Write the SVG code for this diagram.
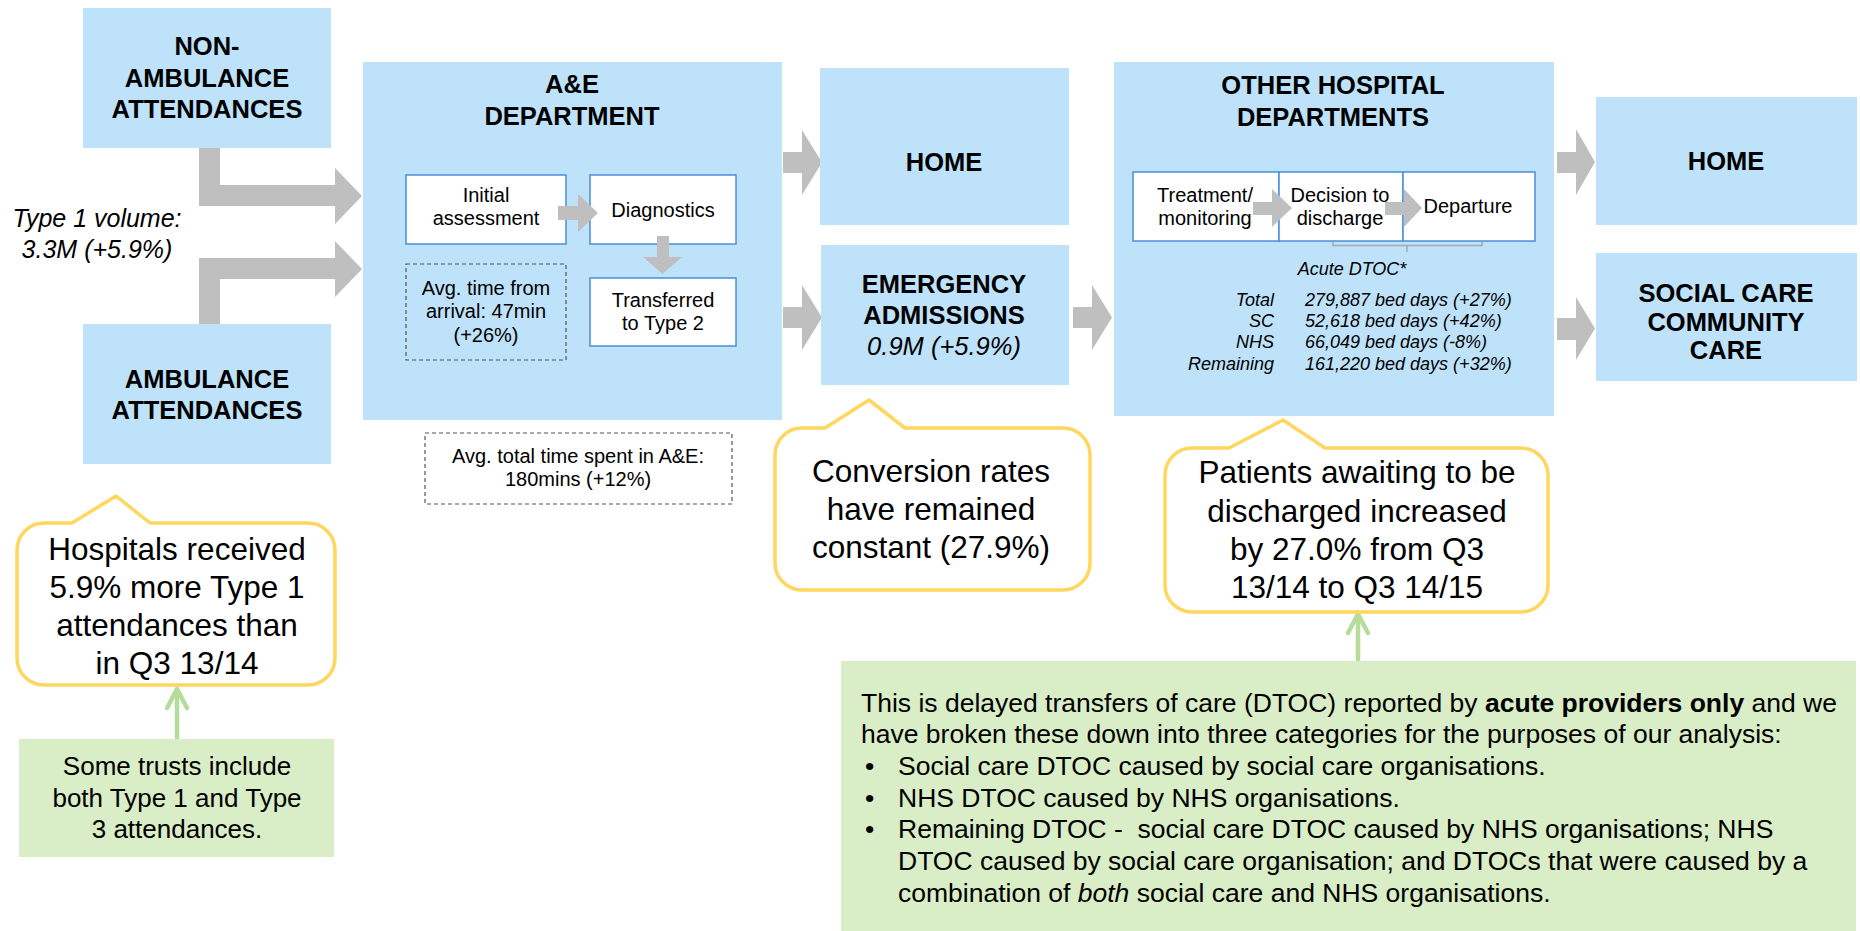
<svg xmlns="http://www.w3.org/2000/svg" width="1860" height="931" viewBox="0 0 1860 931">
<style>
text{font-family:"Liberation Sans",Arial,sans-serif;fill:#000}
.box{fill:#BFE2FB}
.hd{font-size:25.5px;font-weight:bold;text-anchor:middle}
.it{font-style:italic}
.in{fill:#fff;stroke:#4A90D9;stroke-width:1.5}
.sm{font-size:20px;text-anchor:middle}
.dash{fill:none;stroke:#555;stroke-width:1.2;stroke-dasharray:4 3}
.arr{fill:#BFBFBF}
.call{fill:#fff;stroke:#FFD75E;stroke-width:3.5;stroke-linejoin:round}
.ct{font-size:31.5px;text-anchor:middle}
.gbox{fill:#D9EDC6}
.garr{fill:none;stroke:#B5DC98;stroke-width:4.5;stroke-linecap:round;stroke-linejoin:round}
.gt{font-size:26px}
.gt2{font-size:26.5px}
.tb{font-size:18px;font-style:italic}
</style>
<rect width="1860" height="931" fill="#fff"/>

<g id="connectors">
<polygon class="arr" points="199,148 220,148 220,185 335,185 335,168 362,196 335,224 335,206 199,206"/>
<polygon class="arr" points="199,324 199,258 335,258 335,241 362,269 335,297 335,279 220,279 220,324"/>
<polygon class="arr" points="783,152 802,152 802,130 822,162.5 802,195 802,173 783,173"/>
<polygon class="arr" points="783,307 802,307 802,285 822,317.5 802,350 802,328 783,328"/>
<polygon class="arr" points="1073,307 1092,307 1092,285 1112,317.5 1092,350 1092,328 1073,328"/>
<polygon class="arr" points="1557,152 1576,152 1576,129 1595,162 1576,195 1576,173 1557,173"/>
<polygon class="arr" points="1557,318 1576,318 1576,297 1595,328.5 1576,360 1576,340 1557,340"/>
<polyline class="garr" points="177,738 177,689"/>
<polyline class="garr" points="167,708 177,689 187,708"/>
<polyline class="garr" points="1358,661 1358,614"/>
<polyline class="garr" points="1348,633 1358,614 1368,633"/>
</g>

<g id="non-ambulance">
<rect class="box" x="83" y="8" width="248" height="140"/>
<text class="hd" x="207" y="55">NON-</text>
<text class="hd" x="207" y="87">AMBULANCE</text>
<text class="hd" x="207" y="118">ATTENDANCES</text>
</g>

<g id="ambulance">
<rect class="box" x="83" y="324" width="248" height="140"/>
<text class="hd" x="207" y="388">AMBULANCE</text>
<text class="hd" x="207" y="419">ATTENDANCES</text>
</g>

<g id="type1-volume">
<text class="it" x="97" y="227" font-size="25px" text-anchor="middle">Type 1 volume:</text>
<text class="it" x="97" y="258" font-size="25px" text-anchor="middle">3.3M (+5.9%)</text>
</g>

<g id="ae-department">
<rect class="box" x="363" y="62" width="419" height="358"/>
<text class="hd" x="572" y="93">A&amp;E</text>
<text class="hd" x="572" y="125">DEPARTMENT</text>
<g id="initial-assessment">
<rect class="in" x="406" y="175" width="160" height="69"/>
<text class="sm" x="486" y="202">Initial</text>
<text class="sm" x="486" y="225">assessment</text>
</g>
<g id="diagnostics">
<rect class="in" x="590" y="175" width="146" height="69"/>
<text class="sm" x="663" y="217">Diagnostics</text>
</g>
<g id="transferred">
<rect class="in" x="590" y="278" width="146" height="68"/>
<text class="sm" x="663" y="307">Transferred</text>
<text class="sm" x="663" y="330">to Type 2</text>
</g>
<polygon class="arr" points="558,206 578,206 578,194 598,213 578,232 578,220 558,220"/>
<polygon class="arr" points="657,236 669,236 669,257 682,257 662.5,274 643,257 657,257"/>
<g id="avg-time-arrival">
<rect class="dash" x="406" y="264" width="160" height="96"/>
<text class="sm" x="486" y="295">Avg. time from</text>
<text class="sm" x="486" y="318">arrival: 47min</text>
<text class="sm" x="486" y="342">(+26%)</text>
</g>
</g>

<g id="avg-total-time">
<rect class="dash" x="425" y="433" width="307" height="71"/>
<text class="sm" x="578" y="463">Avg. total time spent in A&amp;E:</text>
<text class="sm" x="578" y="486">180mins (+12%)</text>
</g>

<g id="home-1">
<rect class="box" x="820" y="68" width="249" height="157"/>
<text class="hd" x="944" y="171">HOME</text>
</g>

<g id="emergency-admissions">
<rect class="box" x="821" y="245" width="248" height="140"/>
<text class="hd" x="944" y="293">EMERGENCY</text>
<text class="hd" x="944" y="324">ADMISSIONS</text>
<text class="hd it" x="944" y="355" style="font-weight:normal">0.9M (+5.9%)</text>
</g>

<g id="other-hospital">
<rect class="box" x="1114" y="62" width="440" height="354"/>
<text class="hd" x="1333" y="94">OTHER HOSPITAL</text>
<text class="hd" x="1333" y="126">DEPARTMENTS</text>
<rect class="in" x="1133" y="172" width="146" height="69"/>
<rect class="in" x="1279" y="172" width="124" height="69"/>
<rect class="in" x="1403" y="172" width="132" height="69"/>
<text class="sm" x="1205" y="202">Treatment/</text>
<text class="sm" x="1205" y="225">monitoring</text>
<text class="sm" x="1340" y="202">Decision to</text>
<text class="sm" x="1340" y="225">discharge</text>
<text class="sm" x="1468" y="213">Departure</text>
<polygon class="arr" points="1253,202 1272,202 1272,189 1292,208 1272,227 1272,215 1253,215"/>
<polygon class="arr" points="1385,202 1404,202 1404,189 1422,208 1404,227 1404,215 1385,215"/>
<path d="M1333,242 V245.5 H1482 V242 M1407,245.5 V252" fill="none" stroke="#A8A8A8" stroke-width="1.5"/>
<text class="tb" x="1352" y="275" text-anchor="middle">Acute DTOC*</text>
<text class="tb" x="1274" y="306" text-anchor="end">Total</text>
<text class="tb" x="1274" y="327" text-anchor="end">SC</text>
<text class="tb" x="1274" y="348" text-anchor="end">NHS</text>
<text class="tb" x="1274" y="370" text-anchor="end">Remaining</text>
<text class="tb" x="1305" y="306">279,887 bed days (+27%)</text>
<text class="tb" x="1305" y="327">52,618 bed days (+42%)</text>
<text class="tb" x="1305" y="348">66,049 bed days (-8%)</text>
<text class="tb" x="1305" y="370">161,220 bed days (+32%)</text>
</g>

<g id="home-2">
<rect class="box" x="1596" y="97" width="261" height="128"/>
<text class="hd" x="1726" y="170">HOME</text>
</g>

<g id="social-care">
<rect class="box" x="1596" y="253" width="261" height="128"/>
<text class="hd" x="1726" y="302">SOCIAL CARE</text>
<text class="hd" x="1726" y="331">COMMUNITY</text>
<text class="hd" x="1726" y="359">CARE</text>
</g>

<g id="callout-hospitals">
<path class="call" d="M72,523 L116,496 L150,523 H308 A27,27 0 0 1 335,550 V658 A27,27 0 0 1 308,685 H44 A27,27 0 0 1 17,658 V550 A27,27 0 0 1 44,523 Z"/>
<text class="ct" x="177" y="560">Hospitals received</text>
<text class="ct" x="177" y="598">5.9% more Type 1</text>
<text class="ct" x="177" y="636">attendances than</text>
<text class="ct" x="177" y="674">in Q3 13/14</text>
</g>

<g id="note-trusts">
<rect class="gbox" x="19" y="739" width="315" height="118"/>
<text class="gt" x="177" y="775" text-anchor="middle">Some trusts include</text>
<text class="gt" x="177" y="807" text-anchor="middle">both Type 1 and Type</text>
<text class="gt" x="177" y="838" text-anchor="middle">3 attendances.</text>
</g>

<g id="callout-conversion">
<path class="call" d="M825,428 L869,400 L905,428 H1063 A27,27 0 0 1 1090,455 V563 A27,27 0 0 1 1063,590 H802 A27,27 0 0 1 775,563 V455 A27,27 0 0 1 802,428 Z"/>
<text class="ct" x="931" y="482">Conversion rates</text>
<text class="ct" x="931" y="520">have remained</text>
<text class="ct" x="931" y="558">constant (27.9%)</text>
</g>

<g id="callout-patients">
<path class="call" d="M1229,448 L1283,420 L1325,448 H1521 A27,27 0 0 1 1548,475 V585 A27,27 0 0 1 1521,612 H1192 A27,27 0 0 1 1165,585 V475 A27,27 0 0 1 1192,448 Z"/>
<text class="ct" x="1357" y="483">Patients awaiting to be</text>
<text class="ct" x="1357" y="522">discharged increased</text>
<text class="ct" x="1357" y="560">by 27.0% from Q3</text>
<text class="ct" x="1357" y="598">13/14 to Q3 14/15</text>
</g>

<g id="note-dtoc">
<rect class="gbox" x="841" y="661" width="1015" height="270"/>
<text class="gt2" x="861" y="712">This is delayed transfers of care (DTOC) reported by <tspan font-weight="bold">acute providers only</tspan> and we</text>
<text class="gt2" x="861" y="743">have broken these down into three categories for the purposes of our analysis:</text>
<text class="gt2" x="865" y="775">•</text>
<text class="gt2" x="898" y="775">Social care DTOC caused by social care organisations.</text>
<text class="gt2" x="865" y="807">•</text>
<text class="gt2" x="898" y="807">NHS DTOC caused by NHS organisations.</text>
<text class="gt2" x="865" y="838">•</text>
<text class="gt2" x="898" y="838" style="white-space:pre">Remaining DTOC -  social care DTOC caused by NHS organisations; NHS</text>
<text class="gt2" x="898" y="870">DTOC caused by social care organisation; and DTOCs that were caused by a</text>
<text class="gt2" x="898" y="902">combination of <tspan font-style="italic">both</tspan> social care and NHS organisations.</text>
</g>
</svg>
